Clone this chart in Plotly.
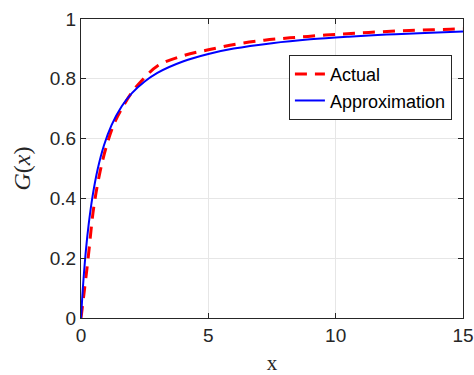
import plotly.graph_objects as go

# Actual curve
actual_x = [0, 0.15, 0.28, 0.5, 0.75, 1.0, 1.3, 1.7, 2.0, 2.4, 3.0, 4.0, 5.0, 6.1, 7.2, 8.2,
            9.25, 10.3, 11.3, 12.4, 13.4, 14.5, 15]
actual_y = [0, 0.105, 0.2, 0.37, 0.49, 0.575, 0.65, 0.715, 0.755, 0.795, 0.843, 0.877, 0.897,
            0.916, 0.929, 0.937, 0.944, 0.95, 0.955, 0.96, 0.963, 0.966, 0.967]

# Approximation curve
approx_x = [0, 0.05, 0.1, 0.2, 0.3, 0.45, 0.65, 0.9, 1.2, 1.6, 2.0, 2.5, 3.0, 4.0, 5.0, 6.0,
            7.5, 9.0, 10.5, 12.0, 13.5, 15]
approx_y = [0, 0.070, 0.132, 0.233, 0.312, 0.405, 0.496, 0.577, 0.645, 0.708, 0.752, 0.791,
            0.820, 0.858, 0.883, 0.901, 0.919, 0.932, 0.941, 0.948, 0.953, 0.958]

x_ticks = [0, 5, 10, 15]
y_ticks = [0, 0.2, 0.4, 0.6, 0.8, 1]
y_tick_labels = ["0", "0.2", "0.4", "0.6", "0.8", "1"]

fig = go.Figure()
fig.add_trace(go.Scatter(x=actual_x, y=actual_y, mode="lines", name="Actual",
                         line=dict(color="#ff0000", width=3, dash="12px,8px", shape="spline")))
fig.add_trace(go.Scatter(x=approx_x, y=approx_y, mode="lines", name="Approximation",
                         line=dict(color="#0000ff", width=2, shape="spline")))

axis_common = dict(showline=True, linecolor="#262626", linewidth=1, mirror="allticks",
                   ticks="inside", ticklen=5, tickcolor="#262626", automargin=False,
                   showgrid=True, gridcolor="#e6e6e6", gridwidth=1, zeroline=False,
                   tickfont=dict(family="Liberation Sans, Arial", size=19, color="#262626"))

fig.update_layout(
    width=474, height=375,
    margin=dict(l=81, r=11, t=19, b=57),
    paper_bgcolor="white", plot_bgcolor="white",
    xaxis=dict(range=[0, 15], tickvals=x_ticks, ticktext=[str(v) for v in x_ticks],
               title=dict(text="x", font=dict(family="Liberation Serif, Times New Roman", size=21,
                                                color="#262626"), standoff=14),
               **axis_common),
    yaxis=dict(range=[0, 1], tickvals=y_ticks, ticktext=y_tick_labels,
               title=dict(text="<i>G</i>(<i>x</i>)",
                          font=dict(family="Liberation Serif, Times New Roman", size=24,
                                    color="#262626"), standoff=12),
               **axis_common),
    legend=dict(x=0.971, y=0.88, xanchor="right", yanchor="top",
                bgcolor="white", bordercolor="#262626", borderwidth=1,
                font=dict(family="Liberation Sans, Arial", size=18, color="black"),
                tracegroupgap=0, itemwidth=30),
    showlegend=True,
)

fig.write_html("out.html")
